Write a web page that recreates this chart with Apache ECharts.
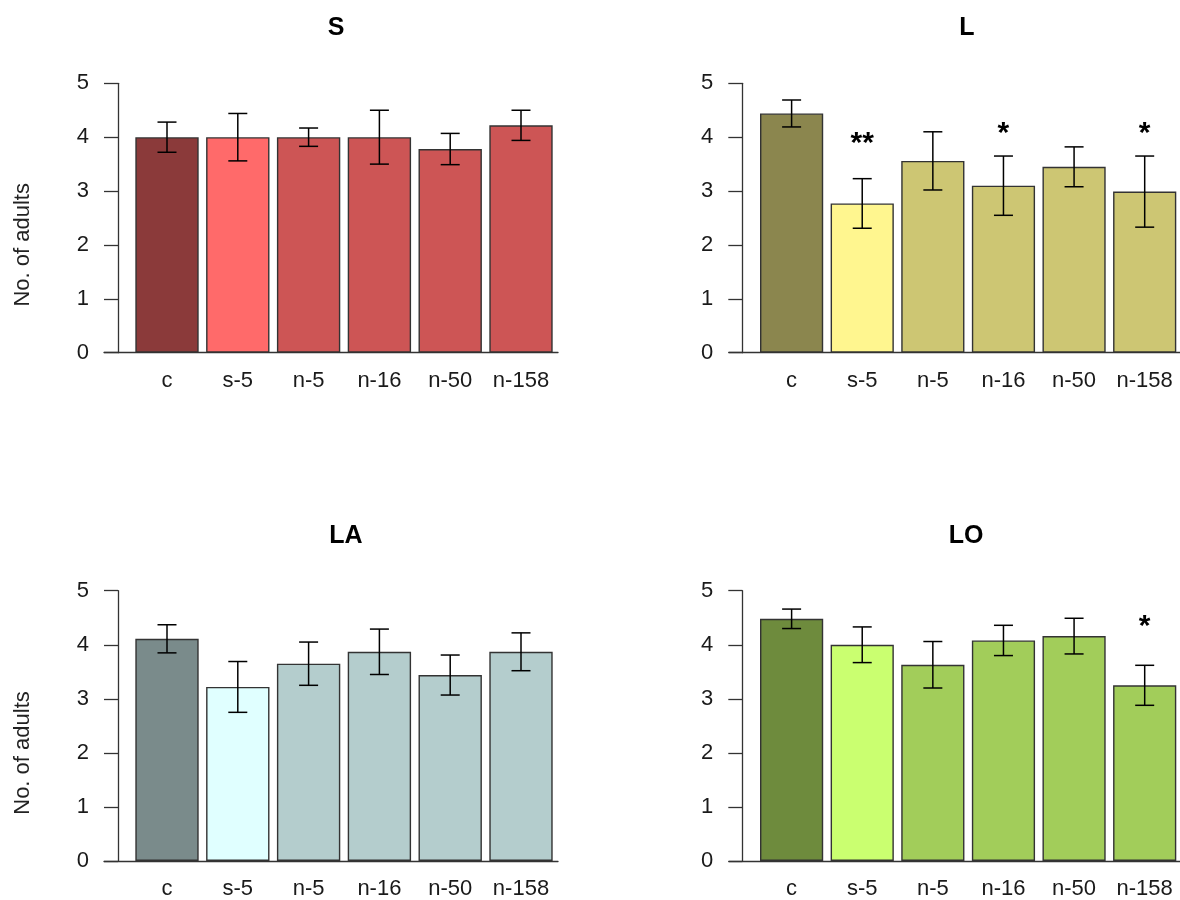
<!DOCTYPE html>
<html><head><meta charset="utf-8">
<script src="https://cdn.jsdelivr.net/npm/echarts@6/dist/echarts.min.js"></script>
<style>html,body{margin:0;padding:0;background:#fff}#c{width:1180px;height:900px}</style>
</head><body><div id="c"></div>
<script>
// ---------------- data ----------------
const categories = ['c', 's-5', 'n-5', 'n-16', 'n-50', 'n-158'];
const yMin = 0, yMax = 5, yStep = 1;
const yAxisTitle = 'No. of adults';

const meansS  = [4.00, 4.00, 4.00, 4.00, 3.78, 4.22];
const errsS   = [0.28, 0.44, 0.17, 0.50, 0.29, 0.28];
const meansL  = [4.44, 2.77, 3.56, 3.10, 3.45, 2.99];
const errsL   = [0.25, 0.46, 0.54, 0.55, 0.37, 0.66];
const meansLA = [4.11, 3.22, 3.65, 3.87, 3.44, 3.87];
const errsLA  = [0.26, 0.47, 0.40, 0.42, 0.37, 0.35];
const meansLO = [4.48, 4.00, 3.63, 4.08, 4.16, 3.25];
const errsLO  = [0.18, 0.33, 0.43, 0.28, 0.33, 0.37];

// significance marks (text, y value of mark)
const starsS  = ['', '', '', '', '', ''];
const starYS  = [null, null, null, null, null, null];
const starsL  = ['', '**', '', '*', '', '*'];
const starYL  = [null, 3.98, null, 4.15, null, 4.15];
const starsLA = ['', '', '', '', '', ''];
const starYLA = [null, null, null, null, null, null];
const starsLO = ['', '', '', '', '', '*'];
const starYLO = [null, null, null, null, null, 4.43];

// colours
const colorsS  = ['#8B3A3A', '#FF6A6A', '#CD5555', '#CD5555', '#CD5555', '#CD5555'];
const colorsL  = ['#8B864E', '#FFF68F', '#CDC673', '#CDC673', '#CDC673', '#CDC673'];
const colorsLA = ['#7A8B8B', '#E0FFFF', '#B4CDCD', '#B4CDCD', '#B4CDCD', '#B4CDCD'];
const colorsLO = ['#6E8B3D', '#CAFF70', '#A2CD5A', '#A2CD5A', '#A2CD5A', '#A2CD5A'];

// ---------------- layout ----------------
const FONT = '"Liberation Sans", Arial, sans-serif';
const panels = [
  {title: 'S',  means: meansS,  errs: errsS,  stars: starsS,  starY: starYS,  colors: colorsS,
   titleX: 336, titleY: 16, axisX: 118, catLeft: 131.6, catW: 424.8, baseLeft: 104, baseW: 454, top: 83.3, bottom: 352.7, yName: true, nameTop: 137},
  {title: 'L',  means: meansL,  errs: errsL,  stars: starsL,  starY: starYL,  colors: colorsL,
   titleX: 967, titleY: 16, axisX: 742.3, catLeft: 756.3, catW: 424.4, baseLeft: 729, baseW: 460, top: 83.3, bottom: 352.7, yName: false, nameTop: 137},
  {title: 'LA', means: meansLA, errs: errsLA, stars: starsLA, starY: starYLA, colors: colorsLA,
   titleX: 346, titleY: 523.5, axisX: 118, catLeft: 131.6, catW: 424.8, baseLeft: 104, baseW: 454, top: 590.7, bottom: 861, yName: true, nameTop: 645},
  {title: 'LO', means: meansLO, errs: errsLO, stars: starsLO, starY: starYLO, colors: colorsLO,
   titleX: 966, titleY: 523.5, axisX: 742.3, catLeft: 756.3, catW: 424.4, baseLeft: 729, baseW: 460, top: 590.7, bottom: 861, yName: false, nameTop: 645}
];

const AXIS_COLOR = '#333';
const TEXT_COLOR = '#1a1a1a';

const option = {
  backgroundColor: '#fff',
  animation: false,
  title: [], grid: [], xAxis: [], yAxis: [], series: []
};

panels.forEach((p, k) => {
  const gA = option.grid.length;
  option.grid.push({left: p.catLeft, top: p.top, width: p.catW, height: p.bottom - p.top, containLabel: false});
  const gB = option.grid.length;
  option.grid.push({left: p.baseLeft, top: p.nameTop, width: p.baseW, height: p.bottom - p.nameTop, containLabel: false});

  option.title.push({
    text: p.title, left: p.titleX, top: p.titleY, textAlign: 'center', padding: 0,
    textStyle: {fontFamily: FONT, fontWeight: 'bold', fontSize: 25, color: '#000'}
  });

  const xA = option.xAxis.length;
  option.xAxis.push({
    type: 'category', gridIndex: gA, data: categories,
    axisLine: {show: false}, axisTick: {show: false}, splitLine: {show: false},
    axisLabel: {fontFamily: FONT, fontSize: 22, color: TEXT_COLOR, margin: 17, interval: 0}
  });
  const xB = option.xAxis.length;
  option.xAxis.push({
    type: 'value', gridIndex: gB, min: 0, max: 1,
    axisLine: {show: true, onZero: false, lineStyle: {color: AXIS_COLOR, width: 1.3}},
    axisTick: {show: false}, axisLabel: {show: false}, splitLine: {show: false}
  });

  const yA = option.yAxis.length;
  option.yAxis.push({
    type: 'value', gridIndex: gA, min: yMin, max: yMax, interval: yStep,
    offset: p.catLeft - p.axisX,
    axisLine: {show: true, lineStyle: {color: AXIS_COLOR, width: 1.3}},
    axisTick: {show: true, length: 14, lineStyle: {color: AXIS_COLOR, width: 1.3}},
    splitLine: {show: false},
    axisLabel: {fontFamily: FONT, fontSize: 22, color: TEXT_COLOR, margin: 29}
  });
  const yB = option.yAxis.length;
  option.yAxis.push({
    type: 'value', gridIndex: gB, min: 0, max: 1,
    axisLine: {show: false}, axisTick: {show: false}, axisLabel: {show: false}, splitLine: {show: false},
    name: p.yName ? yAxisTitle : '', nameLocation: 'middle', nameGap: 70,
    nameTextStyle: {fontFamily: FONT, fontSize: 22, color: '#222'}
  });

  option.series.push({
    type: 'bar', xAxisIndex: xA, yAxisIndex: yA, barWidth: '89.5%',
    data: p.means.map((v, i) => ({value: v, itemStyle: {color: p.colors[i]}})),
    itemStyle: {borderColor: '#333', borderWidth: 1.4},
    silent: true
  });

  option.series.push({
    type: 'custom', xAxisIndex: xA, yAxisIndex: yA, silent: true, z: 5,
    data: p.means.map((m, i) => [i, m, p.errs[i]]),
    renderItem: function (params, api) {
      const i = api.value(0), m = api.value(1), e = api.value(2);
      const t = api.coord([i, m + e]);
      const b = api.coord([i, m - e]);
      const hw = 9.5;
      const style = {stroke: '#000', lineWidth: 1.5};
      return {type: 'group', children: [
        {type: 'line', shape: {x1: t[0], y1: t[1], x2: b[0], y2: b[1]}, style: style},
        {type: 'line', shape: {x1: t[0] - hw, y1: t[1], x2: t[0] + hw, y2: t[1]}, style: style},
        {type: 'line', shape: {x1: b[0] - hw, y1: b[1], x2: b[0] + hw, y2: b[1]}, style: style}
      ]};
    }
  });

  const starIdx = p.stars.map((s, i) => i).filter(i => p.stars[i] !== '');
  option.series.push({
    type: 'custom', xAxisIndex: xA, yAxisIndex: yA, silent: true, z: 6,
    data: starIdx.map(i => [i, p.starY[i]]),
    renderItem: function (params, api) {
      const pt = api.coord([api.value(0), api.value(1)]);
      const txt = p.stars[starIdx[params.dataIndex]];
      return {type: 'text', x: pt[0], y: pt[1] + 5,
        style: {text: txt, fill: '#000', font: 'bold 30px ' + FONT, align: 'center', verticalAlign: 'middle'}};
    }
  });
});

const chart = echarts.init(document.getElementById('c'), null, {renderer: 'canvas'});
chart.setOption(option);
</script>
</body></html>
